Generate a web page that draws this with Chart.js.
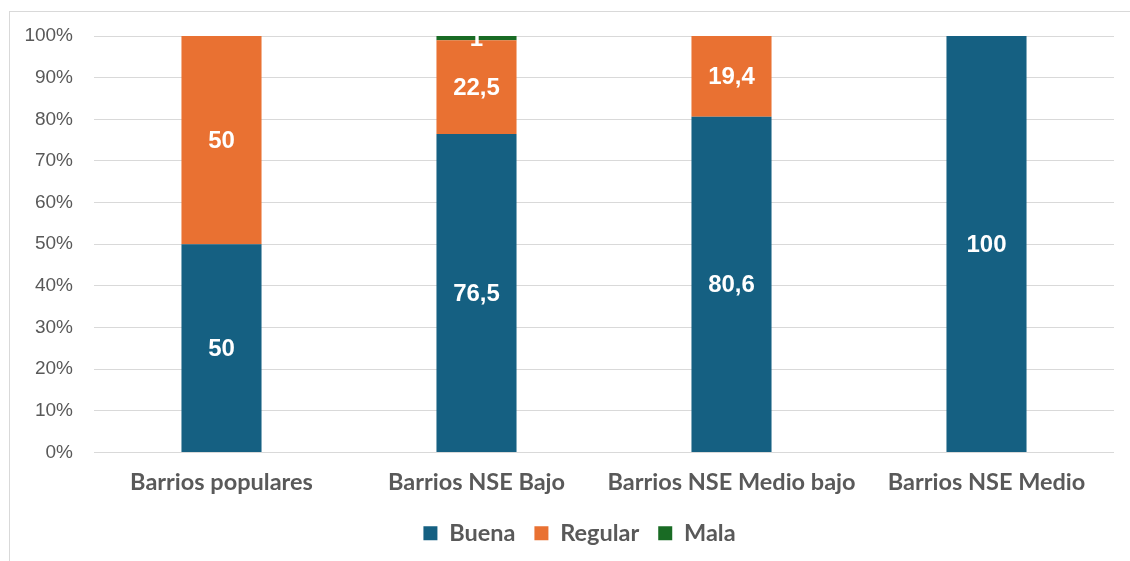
<!DOCTYPE html>
<html>
<head>
<meta charset="utf-8">
<script src="https://cdn.jsdelivr.net/npm/chart.js@4.4.1/dist/chart.umd.min.js"></script>
<style>
html,body{margin:0;padding:0;background:#fff;}
canvas{display:block;}
</style>
</head>
<body>
<canvas id="c" width="1130" height="561"></canvas>
<script>
const categories = ["Barrios populares", "Barrios NSE Bajo", "Barrios NSE Medio bajo", "Barrios NSE Medio"];
const buena = [50, 76.5, 80.6, 100];
const regular = [50, 22.5, 19.4, 0];
const mala = [0, 1, 0, 0];
const seriesNames = ["Buena", "Regular", "Mala"];
const seriesColors = ["#156082", "#E97132", "#196B24"];

const frame = {
  id: 'frame',
  beforeDraw(chart) {
    const ctx = chart.ctx;
    ctx.save();
    ctx.fillStyle = '#fff';
    ctx.fillRect(0, 0, chart.width, chart.height);
    ctx.strokeStyle = '#d9d9d9';
    ctx.lineWidth = 1;
    ctx.strokeRect(9.5, 11.5, chart.width + 20, chart.height + 20);
    ctx.restore();
  }
};

// the original legend is centred on a chart frame wider than the visible crop
const legendShift = {
  id: 'legendShift',
  afterLayout(chart) {
    const lg = chart.legend;
    if (lg) { lg.left += 22.5; lg.right += 22.5; }
  }
};

const dataLabels = {
  id: 'dataLabels',
  afterDatasetsDraw(chart) {
    const ctx = chart.ctx;
    ctx.save();
    ctx.fillStyle = '#ffffff';
    ctx.font = 'bold 24px "Liberation Sans", Arial, sans-serif';
    ctx.textAlign = 'center';
    ctx.textBaseline = 'middle';
    chart.data.datasets.forEach((ds, i) => {
      const meta = chart.getDatasetMeta(i);
      meta.data.forEach((el, j) => {
        const v = ds.data[j];
        if (!v) return;
        const y = (el.y + el.base) / 2;
        ctx.fillText(String(v).replace('.', ','), el.x, y + 1);
      });
    });
    ctx.restore();
  }
};

new Chart(document.getElementById('c'), {
  type: 'bar',
  data: {
    labels: categories,
    datasets: [
      { label: seriesNames[0], data: buena, backgroundColor: seriesColors[0] },
      { label: seriesNames[1], data: regular, backgroundColor: seriesColors[1] },
      { label: seriesNames[2], data: mala, backgroundColor: seriesColors[2] }
    ]
  },
  options: {
    responsive: false,
    animation: false,
    layout: { padding: { top: 36, right: 16, left: 0, bottom: 6 } },
    datasets: { bar: { barPercentage: 1, categoryPercentage: 0.314 } },
    scales: {
      x: {
        stacked: true,
        grid: { display: false },
        border: { display: false },
        ticks: {
          color: '#595959',
          padding: 8,
          font: { family: 'Lato, sans-serif', size: 23.5, weight: 'bold' }
        },
        afterFit(scale) { scale.height = 50; }
      },
      y: {
        stacked: true,
        min: 0, max: 100,
        grid: { color: '#d9d9d9', drawTicks: false, lineWidth: 1 },
        border: { display: false },
        ticks: {
          stepSize: 10,
          padding: 21,
          color: '#595959',
          font: { family: '"Liberation Sans", Arial, sans-serif', size: 19 },
          callback: v => v + '%'
        },
        afterFit(scale) { scale.width = 94; }
      }
    },
    plugins: {
      legend: {
        position: 'bottom',
        labels: {
          boxWidth: 14, boxHeight: 14,
          padding: 19,
          color: '#595959',
          font: { family: 'Lato, sans-serif', size: 23.5, weight: 'bold' }
        }
      },
      tooltip: { enabled: false }
    }
  },
  plugins: [frame, legendShift, dataLabels]
});
</script>
</body>
</html>
